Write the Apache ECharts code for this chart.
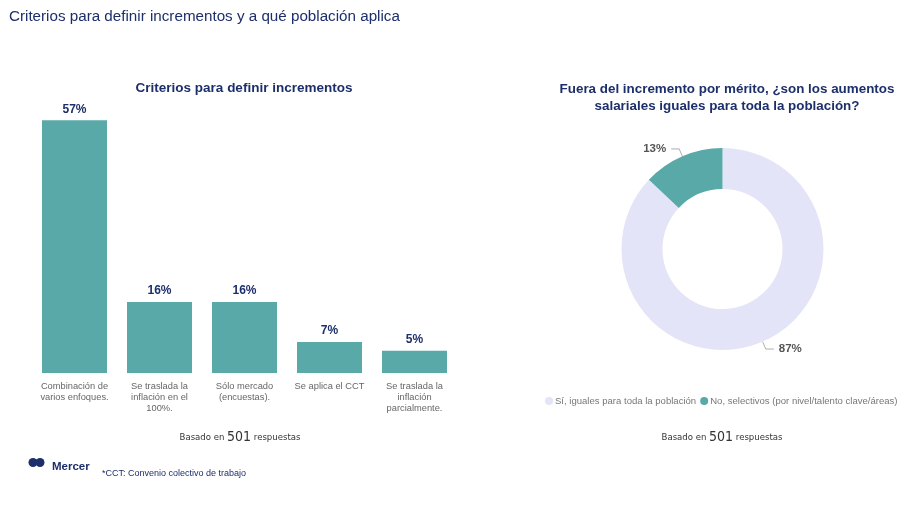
<!DOCTYPE html>
<html><head><meta charset="utf-8">
<script src="https://cdn.jsdelivr.net/npm/echarts@6/dist/echarts.min.js"></script>
<style>html,body{margin:0;padding:0;background:#fff}#c{width:900px;height:505px}</style>
</head><body><div id="c"></div>
<script>
const categories = ['Combinación de\nvarios enfoques.', 'Se traslada la\ninflación en el\n100%.', 'Sólo mercado\n(encuestas).', 'Se aplica el CCT', 'Se traslada la\ninflación\nparcialmente.'];
const barValues = [57, 16, 16, 7, 5];
const pieNames = ['Sí, iguales para toda la población', 'No, selectivos (por nivel/talento clave/áreas)'];
const pieValues = [87, 13];

const navy = '#1d2f6b';
const teal = '#5aa9a9';
const lav = '#e3e4f7';
const ff = 'Liberation Sans, Arial, sans-serif';
const cf = 'DejaVu Sans Condensed, DejaVu Sans, sans-serif';

const chart = echarts.init(document.getElementById('c'));
const basado = {
  text: '{a|Basado en }{b|501}{a| respuestas}',
  textStyle: { fontWeight: 'normal', rich: {
    a: { fontSize: 9.5, color: '#333', fontFamily: cf, fontWeight: 'normal' },
    b: { fontSize: 14, color: '#333', fontFamily: cf, fontWeight: 'normal', padding: [0, 0, 2, 0] }
  }}
};
chart.setOption({
  animation: false,
  title: [
    { text: 'Criterios para definir incrementos y a qué población aplica', left: 4, top: 4,
      textStyle: { fontSize: 15.2, fontWeight: 'normal', color: navy, fontFamily: ff } },
    { text: 'Criterios para definir incrementos', left: 239, textAlign: 'center', top: 76,
      textStyle: { fontSize: 13.5, fontWeight: 'bold', color: navy, fontFamily: ff } },
    { text: 'Fuera del incremento por mérito, ¿son los aumentos\nsalariales iguales para toda la población?', left: 722, textAlign: 'center', top: 76,
      textStyle: { fontSize: 13.4, fontWeight: 'bold', color: navy, fontFamily: ff, lineHeight: 17 } },
    Object.assign({ left: 235, textAlign: 'center', top: 425 }, basado),
    Object.assign({ left: 717, textAlign: 'center', top: 425 }, basado),
    { text: 'Mercer', left: 47, top: 456,
      textStyle: { fontSize: 11.5, fontWeight: 'bold', color: navy, fontFamily: ff } },
    { text: '*CCT: Convenio colectivo de trabajo', left: 97, top: 464,
      textStyle: { fontSize: 9, fontWeight: 'normal', color: navy, fontFamily: ff } }
  ],
  graphic: [
    { type: 'circle', shape: { cx: 33, cy: 462.5, r: 4.5 }, style: { fill: navy } },
    { type: 'circle', shape: { cx: 40, cy: 462.5, r: 4.5 }, style: { fill: navy } }
  ],
  grid: { left: 32, width: 425, top: 107, height: 266 },
  xAxis: {
    type: 'category', data: categories,
    axisLine: { show: false }, axisTick: { show: false },
    axisLabel: { interval: 0, color: '#666', fontSize: 9.3, fontFamily: ff, lineHeight: 11, margin: 8 }
  },
  yAxis: { type: 'value', min: 0, max: 60, show: false, splitLine: { show: false } },
  legend: {
    data: pieNames, left: 545, top: 396, width: 420, padding: 0, itemWidth: 8, itemHeight: 8, itemGap: 4,
    icon: 'circle', orient: 'horizontal',
    textStyle: { color: '#777', fontSize: 9.55, fontFamily: ff, padding: [0, 0, 0, -3] }
  },
  series: [
    { type: 'bar', data: barValues, barWidth: 65,
      itemStyle: { color: teal },
      label: { show: true, position: 'top', formatter: '{c}%', color: navy, fontWeight: 'bold', fontSize: 12, fontFamily: ff, distance: 5 } },
    { type: 'pie', center: [722.5, 249], radius: [60, 101], startAngle: 90, clockwise: true,
      data: pieNames.map((n, i) => ({ name: n, value: pieValues[i], itemStyle: { color: [lav, teal][i] } })),
      label: { show: true, formatter: '{c}%', color: '#555', fontWeight: 'bold', fontSize: 11.5, fontFamily: ff },
      labelLine: { show: true, length: 8, length2: 8, lineStyle: { color: '#999', width: 0.8 } },
      emphasis: { disabled: true }
    }
  ]
});
</script></body></html>
